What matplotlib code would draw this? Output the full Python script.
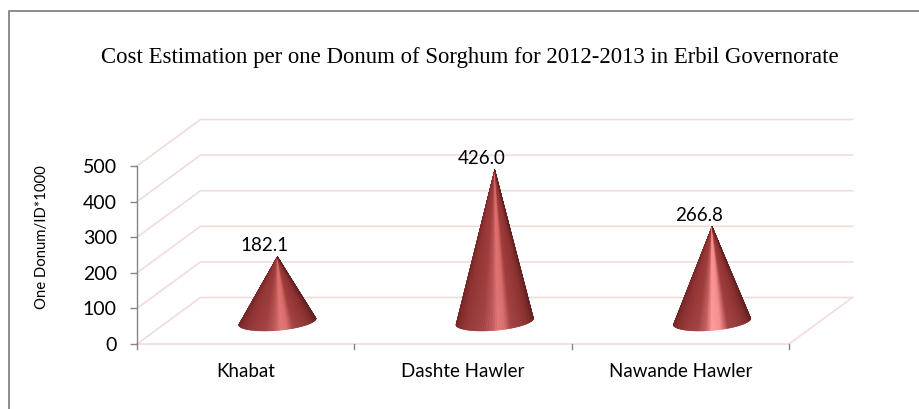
import matplotlib
matplotlib.use('Agg')
import matplotlib.pyplot as plt
import numpy as np
from matplotlib.collections import PolyCollection
from matplotlib.colors import LinearSegmentedColormap
from matplotlib.lines import Line2D

categories = ['Khabat', 'Dashte Hawler', 'Nawande Hawler']
values = [182.1, 426.0, 266.8]
value_labels = ['182.1', '426.0', '266.8']
y_ticks = [0, 100, 200, 300, 400, 500]

W, H = 920, 409

fig = plt.figure(figsize=(W / 100, H / 100), dpi=100)

# front plane of the fake 3d box, in pixels
left, right, bottom, top = 137, 789, 344, 166
ax = fig.add_axes([left / W, 1 - bottom / H, (right - left) / W, (bottom - top) / H])
ax.set_xlim(0, 3)
ax.set_ylim(0, 500)
ax.patch.set_alpha(0)
px_x = 3 / (right - left)
px_y = 500 / (bottom - top)

# depth of the floor
depth_x = 63.5 * px_x
depth_y = 46.5 * px_y

grid_col = '#f2dcdb'
for t in y_ticks:
    ax.plot([0, depth_x, 3 + depth_x], [t, t + depth_y, t + depth_y], color=grid_col,
            lw=1.2, clip_on=False, zorder=1)
ax.plot([0, 3, 3 + depth_x], [0, 0, depth_y], color=grid_col, lw=1.2, clip_on=False, zorder=1)

# cone shading, left to right
cone_cmap = LinearSegmentedColormap.from_list('cone', [
    (0.00, '#6e2323'), (0.22, '#923434'), (0.40, '#a03c3c'), (0.47, '#b85050'),
    (0.53, '#e07272'), (0.58, '#d96a6a'), (0.64, '#a03c3c'), (0.80, '#8e3232'),
    (1.00, '#622020')])
bright_cmap = LinearSegmentedColormap.from_list('cone2', [
    (0.00, '#6e2323'), (0.22, '#923434'), (0.38, '#a03c3c'), (0.45, '#c05a5a'),
    (0.50, '#ff9696'), (0.57, '#f58c8c'), (0.64, '#a03c3c'), (0.80, '#8e3232'),
    (1.00, '#622020')])
cmaps = [cone_cmap, cone_cmap, bright_cmap]

half_w = 38.8 * px_x
tilt = 3.2 * px_y
half_h = 9.0 * px_y
n = 160
for i, val in enumerate(values):
    cx = i + 0.5 + depth_x / 2
    cy = depth_y / 2 - 0.7 * px_y
    ang = np.linspace(np.pi, 0, n + 1)
    ex = cx + half_w * np.cos(ang)
    # tilted ellipse: right end sits higher than left end
    ey = cy + tilt * np.cos(ang) - half_h * np.sin(ang)
    polys = []
    cols = []
    for k in range(n):
        polys.append([(cx, val + cy), (ex[k], ey[k]), (ex[k + 1], ey[k + 1])])
        cols.append(cmaps[i](k / (n - 1)))
    ax.add_collection(PolyCollection(polys, facecolors=cols, edgecolors=cols, linewidths=0.3,
                                     clip_on=False, zorder=3))
    ax.text(cx - 13 * px_x, val + cy + 2.5 * px_y, value_labels[i], ha='center', va='bottom',
            fontsize=13.5, family='Lato', color='black', zorder=4)

for s in ['top', 'right', 'bottom']:
    ax.spines[s].set_visible(False)
ax.spines['left'].set_color('#868686')
ax.spines['left'].set_linewidth(1.0)
ax.spines['left'].set_bounds(0, 500)
ax.plot([0, 0], [0, -5 * px_y], color='#868686', lw=1.0, clip_on=False)

ax.set_yticks(y_ticks)
ax.set_xticks([0.5, 1.5, 2.5])
ax.set_xticklabels(categories)
ax.tick_params(axis='x', length=0, pad=14, labelsize=13.5)
ax.tick_params(axis='y', length=5, width=1.0, color='#868686', pad=9.5, labelsize=14)
for lab in ax.get_xticklabels() + ax.get_yticklabels():
    lab.set_family('Lato')
for xt in [1, 2, 3]:
    ax.plot([xt, xt], [0, -5 * px_y], color='#868686', lw=1.0, clip_on=False)
ax.set_xlim(0, 3)
ax.set_ylim(0, 500)

fig.text(42 / W, 1 - 237 / H, 'One Donum/ID*1000', rotation=90, ha='center', va='center',
         fontsize=10.7, family='Lato')
fig.text(469.5 / W, 1 - 58 / H, 'Cost Estimation per one Donum of Sorghum for 2012-2013 in Erbil Governorate',
         ha='center', va='center', fontsize=16.4, family='Liberation Serif')

# chart frame only shows on the top and left, runs off the picture
fig.add_artist(Line2D([9.5 / W, 9.5 / W, 1], [0, 1 - 10.5 / H, 1 - 10.5 / H], color='#8c8c8c',
                      lw=1.4, transform=fig.transFigure))

fig.savefig('out.png', dpi=100)
